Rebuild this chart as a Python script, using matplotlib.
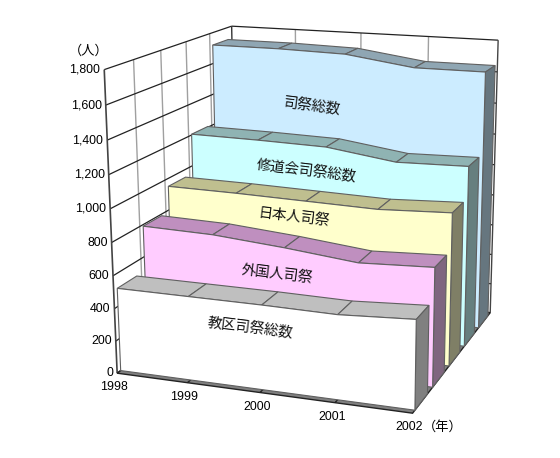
import numpy as np
import matplotlib
matplotlib.use('Agg')
import matplotlib.pyplot as plt
from matplotlib.patches import Polygon

plt.rcParams['font.family'] = ['Liberation Sans', 'Noto Sans CJK JP', 'DejaVu Sans']

# data, back row first
years = ['1998', '1999', '2000', '2001', '2002']
yticks = [0, 200, 400, 600, 800, 1000, 1200, 1400, 1600, 1800]
shisai = [1720, 1720, 1710, 1650, 1650]
shudokai = [1205, 1200, 1190, 1130, 1140]
nihonjin = [950, 945, 935, 925, 945]
gaikokujin = [790, 780, 745, 700, 720]
kyoku = [510, 510, 510, 505, 530]
series = [shisai, shudokai, nihonjin, gaikokujin, kyoku]
names = ['司祭総数', '修道会司祭総数', '日本人司祭', '外国人司祭', '教区司祭総数']

face_cols = ['#CCECFF', '#CCFFFF', '#FFFFCC', '#FFCCFF', '#FFFFFF']
top_cols = ['#8FA6B3', '#8FB3B3', '#BFBF8F', '#BF8FBF', '#BFBFBF']
side_cols = ['#66767F', '#667F7F', '#7F7F66', '#7F667F', '#808080']
slots = [4, 3, 2, 1, 0]
label_pos = [(312, 107), (306, 171), (294, 217), (277, 274), (250, 328)]

# box corners on the picture -> camera matrix
world = [(0, 0, 0), (1, 0, 0), (1, 1, 0), (0, 0, 1), (0, 1, 1), (1, 1, 1)]
pix = [(117, 373), (413, 413), (490, 313), (104, 70), (232, 26), (498, 40)]
rows = []
for (a, b, c), (u, v) in zip(world, pix):
    rows.append([a, b, c, 1, 0, 0, 0, 0, -u*a, -u*b, -u*c, -u])
    rows.append([0, 0, 0, 0, a, b, c, 1, -v*a, -v*b, -v*c, -v])
cam = np.linalg.svd(np.array(rows, float))[2][-1].reshape(3, 4)


def project(x, z, val):
    p = cam @ np.array([x / 4, z, val / 1800, 1.0])
    return p[0] / p[2], p[1] / p[2]


fig = plt.figure(figsize=(5.6, 4.58), dpi=100)
ax = fig.add_axes([0, 0, 1, 1])
ax.set_xlim(0, 560)
ax.set_ylim(458, 0)
ax.axis('off')


def quad(pts, fc='none', ec='#606060', lw=0.8, zo=1):
    ax.add_patch(Polygon([project(*p) for p in pts], closed=True, fc=fc, ec=ec, lw=lw, zorder=zo))


def seg(a, b, col, lw=1.0, zo=1):
    pa, pb = project(*a), project(*b)
    ax.plot([pa[0], pb[0]], [pa[1], pb[1]], color=col, lw=lw, zorder=zo, solid_capstyle='butt')


# walls
quad([(0, 0, 0), (0, 1, 0), (0, 1, 1800), (0, 0, 1800)], fc='white', ec='none')
quad([(0, 1, 0), (4, 1, 0), (4, 1, 1800), (0, 1, 1800)], fc='white', ec='none')
for z in [0.2, 0.4, 0.6, 0.8]:
    seg((0, z, 0), (0, z, 1800), '#A0A0A0', 1.0)
for x in range(1, 4):
    seg((x, 1, 0), (x, 1, 1800), '#A0A0A0', 1.0)
for t in yticks:
    seg((0, 0, t), (0, 1, t), '#222222', 0.9)
    seg((0, 1, t), (4, 1, t), '#222222', 0.9)
seg((0, 0, 0), (0, 0, 1800), '#444444', 1.2)
seg((0, 1, 0), (0, 1, 1800), '#333333', 1.0)
seg((4, 1, 0), (4, 1, 1800), '#444444', 1.0)

# floor
quad([(0, 0, 0), (4, 0, 0), (4, 1, 0), (0, 1, 0)], fc='#808080', ec='#222222', lw=1.0)
for x in range(1, 4):
    seg((x, 0, 0), (x, 0.03, 0), '#222222', 1.0, 2)

# ribbons, back to front
depth = 0.14
for vals, slot, fc, tc, sc in zip(series, slots, face_cols, top_cols, side_cols):
    z0 = slot * 0.2 + 0.025
    z1 = z0 + depth
    n = len(vals)
    for i in range(n - 1):
        quad([(i, z0, vals[i]), (i + 1, z0, vals[i + 1]), (i + 1, z1, vals[i + 1]), (i, z1, vals[i])],
             fc=tc, zo=3)
    quad([(n - 1, z0, 0), (n - 1, z1, 0), (n - 1, z1, vals[-1]), (n - 1, z0, vals[-1])], fc=sc, zo=3)
    front = [(0, z0, 0)] + [(i, z0, vals[i]) for i in range(n)] + [(n - 1, z0, 0)]
    quad(front, fc=fc, zo=3)

for name, (px, py) in zip(names, label_pos):
    ax.text(px, py, name, fontsize=10.4, rotation=-7, rotation_mode='anchor',
            ha='center', va='center', color='#111111', zorder=5)

# tick labels
for t in yticks:
    px, py = project(0, 0, t)
    ax.text(px - 4, py, f'{t:,}', fontsize=8.9, ha='right', va='center', zorder=5)
for i, y in enumerate(years):
    px, py = project(i, 0, 0)
    ax.text(px - 3, py + 14, y, fontsize=8.9, ha='center', va='center', zorder=5)
ax.text(89, 51, '（人）', fontsize=9.5, ha='center', va='center', zorder=5)
ax.text(443, 427, '（年）', fontsize=9.5, ha='center', va='center', zorder=5)

fig.savefig('out.png', dpi=100)
